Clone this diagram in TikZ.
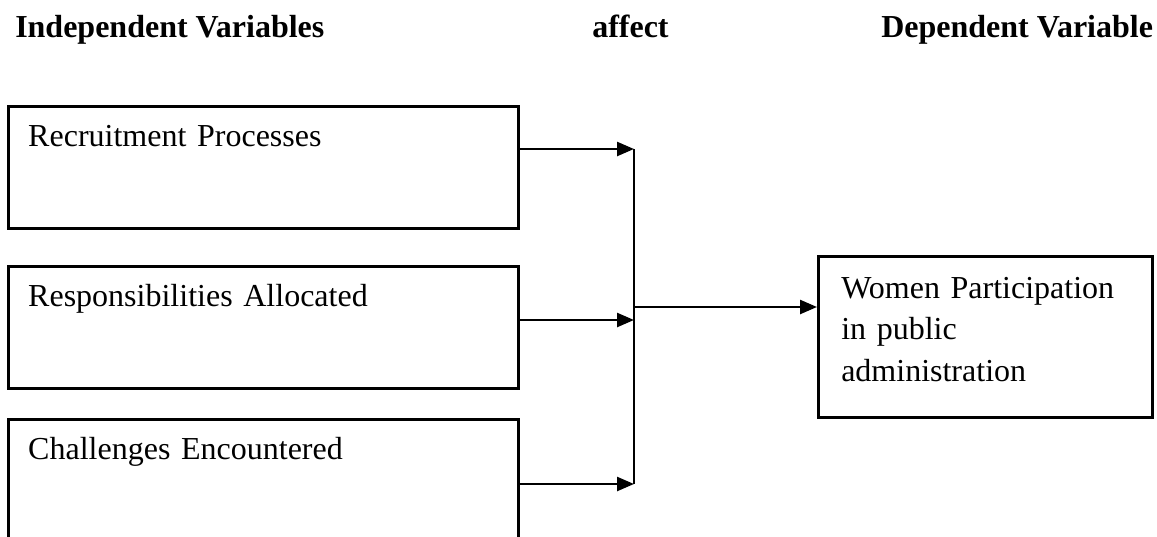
\documentclass[tikz,border=0pt]{standalone}
\usepackage{fontspec}
\setmainfont{Liberation Serif}
\usetikzlibrary{arrows.meta}
\tikzset{
        varbox/.style={draw,rectangle,anchor=north west,inner ysep=0pt,inner xsep=10pt,align=left,
                text width=235pt,minimum height=122pt/2,text height=20pt,text depth=41pt},
        head/.style={anchor=base west,inner sep=0pt,font=\bfseries},
        link/.style={line width=1.25pt,-{Triangle[length=8.5pt,width=7pt]}}
    }

\begin{document}
\begin{tikzpicture}[x=0.5pt,y=-0.5pt,line width=1.25pt]
\clip (0,0) rectangle (1157,536);
\fontsize{16}{20.75}\selectfont

\draw (14,37) node(INDEP)[head]{Independent Variables};
\draw (591,37) node(AFFECT)[head]{affect};
\draw (880,37) node(DEP)[head]{Dependent Variable};

\draw (7,105) node(REC)[varbox]{Recruitment Processes};
\draw (7,265) node(RESP)[varbox]{Responsibilities Allocated};
\draw (7,418) node(CHAL)[varbox]{Challenges Encountered};
\draw (817,255) node(WOMEN)[varbox,text width=144pt,inner xsep=11.5pt,minimum height=161pt/2,
        text height=21pt,text depth=59.5pt]{Women Participation\\in public\\administration};

\coordinate (J1) at (634,149);
\coordinate (J2) at (634,320);
\coordinate (J3) at (634,484);
\coordinate (J0) at (634,307);

\draw[link] (REC.east |- J1) -- (J1);
\draw[link] (RESP.east |- J2) -- (J2);
\draw[link] (CHAL.east |- J3) -- (J3);
\draw (J1) -- (J3);
\draw[link] (J0) -- (WOMEN.west |- J0);

\end{tikzpicture}
\end{document}
